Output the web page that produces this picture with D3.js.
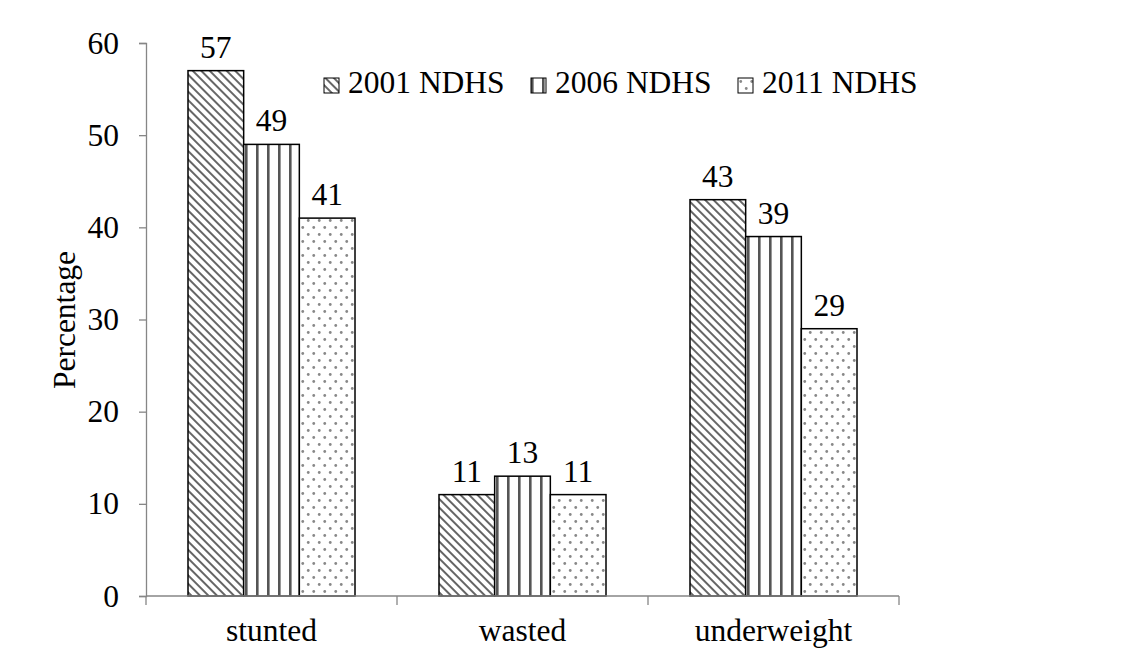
<!DOCTYPE html>
<html><head><meta charset="utf-8">
<script src="https://cdn.jsdelivr.net/npm/d3@7"></script>
<style>body{margin:0;background:#fff}svg{display:block}text{font-family:"Liberation Serif","Times New Roman",serif;fill:#000}</style>
</head><body><svg id="c" width="1135" height="660"></svg>
<script>
const categories = ["stunted", "wasted", "underweight"];
const seriesNames = ["2001 NDHS", "2006 NDHS", "2011 NDHS"];
const s2001 = [57, 11, 43];
const s2006 = [49, 13, 39];
const s2011 = [41, 11, 29];
const yTicks = [0, 10, 20, 30, 40, 50, 60];
const seriesValues = [s2001, s2006, s2011];

const FS = "31.5px";
const svg = d3.select("#c");
const defs = svg.append("defs");
// patterns
const p1 = defs.append("pattern").attr("id","p0").attr("patternUnits","userSpaceOnUse").attr("width",6).attr("height",6).attr("patternTransform","rotate(-45)");
p1.append("rect").attr("width",6).attr("height",6).attr("fill","#fff");
p1.append("rect").attr("x",0).attr("y",0).attr("width",2).attr("height",6).attr("fill","#666");
const p2 = defs.append("pattern").attr("id","p1").attr("patternUnits","userSpaceOnUse").attr("width",11).attr("height",10);
p2.append("rect").attr("width",11).attr("height",10).attr("fill","#fff");
p2.append("rect").attr("x",0).attr("y",0).attr("width",2.6).attr("height",10).attr("fill","#555");
const p3 = defs.append("pattern").attr("id","p2").attr("patternUnits","userSpaceOnUse").attr("width",11).attr("height",14);
p3.append("rect").attr("width",11).attr("height",14).attr("fill","#fff");
p3.append("circle").attr("cx",2.75).attr("cy",3.5).attr("r",1.4).attr("fill","#888");
p3.append("circle").attr("cx",8.25).attr("cy",10.5).attr("r",1.4).attr("fill","#888");

const x0 = d3.scaleBand().domain(categories).range([146, 899]).paddingInner(0).paddingOuter(0);
const x1 = d3.scaleBand().domain(seriesNames).range([42, x0.bandwidth()-42]);
const y = d3.scaleLinear().domain([0, 60]).range([596, 43]);

// y axis
const yAxis = svg.append("g").attr("transform","translate(146,0)")
  .call(d3.axisLeft(y).tickValues(yTicks).tickSize(7).tickPadding(20));
yAxis.select(".domain").attr("stroke","#868686").attr("stroke-width",1.3);
yAxis.selectAll(".tick line").attr("stroke","#868686").attr("stroke-width",1.3);
yAxis.selectAll(".tick text").style("font-size",FS).style("font-family","Liberation Serif").attr("fill","#000");

// bars
const groups = svg.append("g").selectAll("g").data(categories).join("g")
  .attr("transform", d => `translate(${x0(d)},0)`);
groups.selectAll("rect").data((d,i) => seriesNames.map((s,j) => ({s, j, v: seriesValues[j][i]})))
  .join("rect")
  .attr("x", d => x1(d.s)).attr("width", x1.bandwidth())
  .attr("y", d => y(d.v)).attr("height", d => y(0) - y(d.v))
  .attr("fill", d => `url(#p${d.j})`).attr("stroke","#000").attr("stroke-width",1.5);
groups.selectAll("text").data((d,i) => seriesNames.map((s,j) => ({s, j, v: seriesValues[j][i]})))
  .join("text")
  .attr("x", d => x1(d.s) + x1.bandwidth()/2).attr("y", d => y(d.v) - 13)
  .attr("text-anchor","middle").style("font-size",FS).text(d => d.v);

// x axis
const xAxis = svg.append("g").attr("transform","translate(0,596)");
xAxis.append("line").attr("x1",146).attr("x2",899).attr("stroke","#868686").attr("stroke-width",1.3);
const xTickPos = categories.map(c => x0(c)).concat([x0(categories[categories.length-1]) + x0.bandwidth()]);
xAxis.selectAll("line.t").data(xTickPos).join("line").attr("class","t")
  .attr("x1", d => d).attr("x2", d => d).attr("y1",0).attr("y2",9).attr("stroke","#868686").attr("stroke-width",1.3);
xAxis.selectAll("text").data(categories).join("text")
  .attr("x", d => x0(d) + x0.bandwidth()/2).attr("y", 45)
  .attr("text-anchor","middle").style("font-size",FS).text(d => d);

// y title
svg.append("text").attr("transform","translate(75,320) rotate(-90)").attr("text-anchor","middle")
  .style("font-size",FS).text("Percentage");

// legend
const legX = [324, 531, 738];
const leg = svg.append("g").selectAll("g").data(seriesNames).join("g")
  .attr("transform", (d,i) => `translate(${legX[i]},78)`);
leg.append("rect").attr("width",15).attr("height",15).attr("fill",(d,i)=>`url(#p${i})`).attr("stroke","#000").attr("stroke-width",1);
leg.append("text").attr("x",24).attr("y",15).style("font-size",FS).text(d => d);
</script></body></html>
